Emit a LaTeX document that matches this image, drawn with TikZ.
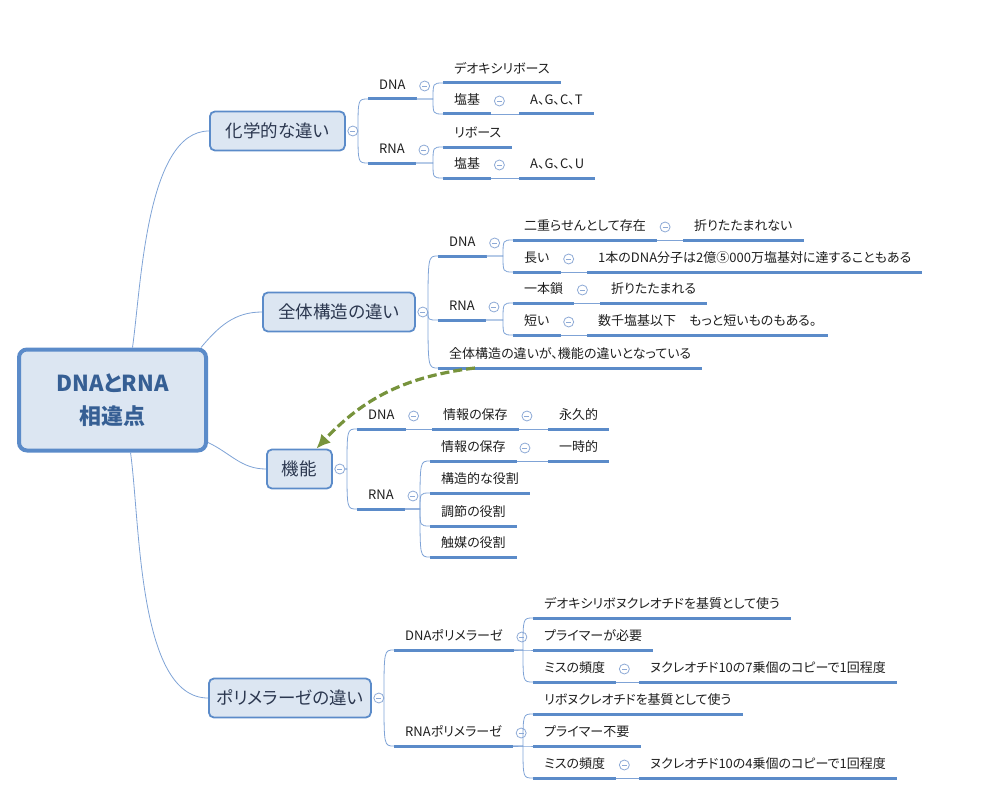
\documentclass[tikz,border=0pt]{standalone}
\usepackage{fontspec}
\setmainfont{Noto Sans CJK JP}[RawFeature=+palt]
\usetikzlibrary{arrows.meta}

\definecolor{xblue}{HTML}{5B8BC9}
\definecolor{xfill}{HTML}{DCE6F2}
\definecolor{rootblue}{HTML}{365F94}
\definecolor{topictext}{HTML}{2C3850}
\definecolor{leaftext}{HTML}{1E1E1E}
\definecolor{connblue}{HTML}{7FA3D6}
\definecolor{foldblue}{HTML}{8EAAD6}
\definecolor{relgreen}{HTML}{77933C}

\tikzset{
  root/.style={draw=xblue,line width=4pt,fill=xfill,rounded corners=8pt,
    minimum width=187pt,minimum height=101pt,align=center,
    font=\fontsize{22}{33}\selectfont\bfseries,text=rootblue},
  topic/.style={draw=xblue,line width=1.8pt,fill=xfill,rounded corners=5pt,
    minimum height=39pt,anchor=west,font=\fontsize{17.5}{20}\selectfont,text=topictext},
  uline/.style={draw=xblue,line width=3pt},
  leaf/.style={anchor=south west,inner xsep=11pt,inner ysep=6pt,text height=10pt,
    text depth=3pt,font=\fontsize{13}{15}\selectfont,text=leaftext,
    append after command={(\tikzlastnode.south west) edge[uline] (\tikzlastnode.south east)}},
  conn/.style={draw=connblue,line width=0.8pt},
  fold/.style={circle,draw=foldblue,line width=0.8pt,fill=white,inner sep=0pt,minimum size=10pt,
    path picture={\draw[foldblue,line width=0.8pt] ([xshift=2.5pt]path picture bounding box.west)
      -- ([xshift=-2.5pt]path picture bounding box.east);}},
  brace/.style={to path={-- ([xshift=-10pt]\tikztotarget |- \tikztostart)
    .. controls ([xshift=-10pt]\tikztotarget) .. (\tikztotarget)}},
  relation/.style={draw=relgreen,line width=3.2pt,dash pattern=on 9pt off 4pt,
    -{Latex[length=14pt,width=13pt]}}
}

\begin{document}
\begin{tikzpicture}[x=1pt,y=-1pt]
\useasboundingbox (0,0) rectangle (1003,797);

% center and main topics
\node[root] (root) at (112.5,400) {DNAとRNA\\相違点};
\node[topic,minimum width=135pt] (kagaku) at (209,131) {化学的な違い};
\node[topic,minimum width=152pt] (zentai) at (262,312) {全体構造の違い};
\node[topic,minimum width=65pt] (kinou) at (266,469) {機能};
\node[topic,minimum width=162pt] (pol) at (208,698) {ポリメラーゼの違い};

\draw[conn] ([xshift=20pt]root.north) to[out=82,in=180,looseness=0.7] (kagaku.west);
\draw[conn] ([xshift=-7pt]root.north east) to[out=50,in=180] (zentai.west);
\draw[conn] ([yshift=10pt]root.south east) to[out=-25,in=180] (kinou.west);
\draw[conn] ([xshift=18pt]root.south) to[out=-82,in=180,looseness=0.7] (pol.west);

% 化学的な違い
\node[leaf] (k-dna) at (368,99) {DNA};
\node[leaf] (k-dna-deoxy) at (443,83) {デオキシリボース};
\node[leaf] (k-dna-base) at (443,114) {塩基};
\node[leaf] (k-dna-agct) at (519,114) {A、G、C、T};
\node[leaf] (k-rna) at (368,163) {RNA};
\node[leaf] (k-rna-ribose) at (443,147) {リボース};
\node[leaf] (k-rna-base) at (443,178) {塩基};
\node[leaf] (k-rna-agcu) at (519,178) {A、G、C、U};

\node[fold] (kagaku-f) at ([xshift=7pt]kagaku.east) {};
\node[fold] (k-dna-f) at ([xshift=8pt,yshift=13pt]k-dna.south east) {};
\node[fold] (k-dna-base-f) at ([xshift=8pt,yshift=13pt]k-dna-base.south east) {};
\node[fold] (k-rna-f) at ([xshift=8pt,yshift=13pt]k-rna.south east) {};
\node[fold] (k-rna-base-f) at ([xshift=8pt,yshift=13pt]k-rna-base.south east) {};

\draw[conn] (kagaku-f.east) to[brace] (k-dna.south west);
\draw[conn] (kagaku-f.east) to[brace] (k-rna.south west);
\draw[conn] (k-dna.south east) to[brace] (k-dna-deoxy.south west);
\draw[conn] (k-dna.south east) to[brace] (k-dna-base.south west);
\draw[conn] (k-dna-base.south east) -- (k-dna-agct.south west);
\draw[conn] (k-rna.south east) to[brace] (k-rna-ribose.south west);
\draw[conn] (k-rna.south east) to[brace] (k-rna-base.south west);
\draw[conn] (k-rna-base.south east) -- (k-rna-agcu.south west);

% 全体構造の違い
\node[leaf] (z-dna) at (438,256) {DNA};
\node[leaf] (z-dna-double) at (513,240) {二重らせんとして存在};
\node[leaf] (z-dna-nofold) at (683,240) {折りたたまれない};
\node[leaf] (z-dna-long) at (513,272) {長い};
\node[leaf] (z-dna-len) at (587,272) {1本のDNA分子は2億⑤000万塩基対に達することもある};
\node[leaf] (z-rna) at (438,320) {RNA};
\node[leaf] (z-rna-single) at (513,303) {一本鎖};
\node[leaf] (z-rna-fold) at (600,303) {折りたたまれる};
\node[leaf] (z-rna-short) at (513,335) {短い};
\node[leaf] (z-rna-len) at (587,335) {数千塩基以下　もっと短いものもある。};
\node[leaf] (z-note) at (438,368) {全体構造の違いが、機能の違いとなっている};

\node[fold] (zentai-f) at ([xshift=7pt]zentai.east) {};
\node[fold] (z-dna-f) at ([xshift=8pt,yshift=13pt]z-dna.south east) {};
\node[fold] (z-dna-double-f) at ([xshift=8pt,yshift=13pt]z-dna-double.south east) {};
\node[fold] (z-dna-long-f) at ([xshift=8pt,yshift=13pt]z-dna-long.south east) {};
\node[fold] (z-rna-f) at ([xshift=8pt,yshift=13pt]z-rna.south east) {};
\node[fold] (z-rna-single-f) at ([xshift=8pt,yshift=13pt]z-rna-single.south east) {};
\node[fold] (z-rna-short-f) at ([xshift=8pt,yshift=13pt]z-rna-short.south east) {};

\draw[conn] (zentai-f.east) to[brace] (z-dna.south west);
\draw[conn] (zentai-f.east) to[brace] (z-rna.south west);
\draw[conn] (zentai-f.east) to[brace] (z-note.south west);
\draw[conn] (z-dna.south east) to[brace] (z-dna-double.south west);
\draw[conn] (z-dna.south east) to[brace] (z-dna-long.south west);
\draw[conn] (z-dna-double.south east) -- (z-dna-nofold.south west);
\draw[conn] (z-dna-long.south east) -- (z-dna-len.south west);
\draw[conn] (z-rna.south east) to[brace] (z-rna-single.south west);
\draw[conn] (z-rna.south east) to[brace] (z-rna-short.south west);
\draw[conn] (z-rna-single.south east) -- (z-rna-fold.south west);
\draw[conn] (z-rna-short.south east) -- (z-rna-len.south west);

% 機能
\node[leaf] (f-dna) at (357,429) {DNA};
\node[leaf] (f-dna-info) at (432,429) {情報の保存};
\node[leaf] (f-dna-perm) at (548,429) {永久的};
\node[leaf] (f-rna) at (357,509) {RNA};
\node[leaf] (f-rna-info) at (430,461) {情報の保存};
\node[leaf] (f-rna-temp) at (548,461) {一時的};
\node[leaf] (f-rna-struct) at (430,493) {構造的な役割};
\node[leaf] (f-rna-reg) at (430,526) {調節の役割};
\node[leaf] (f-rna-cat) at (430,557) {触媒の役割};

\node[fold] (kinou-f) at ([xshift=7pt]kinou.east) {};
\node[fold] (f-dna-f) at ([xshift=8pt,yshift=13pt]f-dna.south east) {};
\node[fold] (f-dna-info-f) at ([xshift=8pt,yshift=13pt]f-dna-info.south east) {};
\node[fold] (f-rna-f) at ([xshift=8pt,yshift=13pt]f-rna.south east) {};
\node[fold] (f-rna-info-f) at ([xshift=8pt,yshift=13pt]f-rna-info.south east) {};

\draw[conn] (kinou-f.east) to[brace] (f-dna.south west);
\draw[conn] (kinou-f.east) to[brace] (f-rna.south west);
\draw[conn] (f-dna.south east) -- (f-dna-info.south west);
\draw[conn] (f-dna-info.south east) -- (f-dna-perm.south west);
\draw[conn] (f-rna.south east) to[brace] (f-rna-info.south west);
\draw[conn] (f-rna.south east) to[brace] (f-rna-struct.south west);
\draw[conn] (f-rna.south east) to[brace] (f-rna-reg.south west);
\draw[conn] (f-rna.south east) to[brace] (f-rna-cat.south west);
\draw[conn] (f-rna-info.south east) -- (f-rna-temp.south west);

% ポリメラーゼの違い
\node[leaf] (p-dna) at (394,650) {DNAポリメラーゼ};
\node[leaf] (p-dna-sub) at (533,618) {デオキシリボヌクレオチドを基質として使う};
\node[leaf] (p-dna-primer) at (533,650) {プライマーが必要};
\node[leaf] (p-dna-miss) at (533,682) {ミスの頻度};
\node[leaf] (p-dna-rate) at (639,682) {ヌクレオチド10の7乗個のコピーで1回程度};
\node[leaf] (p-rna) at (394,746) {RNAポリメラーゼ};
\node[leaf] (p-rna-sub) at (533,714) {リボヌクレオチドを基質として使う};
\node[leaf] (p-rna-primer) at (533,746) {プライマー不要};
\node[leaf] (p-rna-miss) at (533,778) {ミスの頻度};
\node[leaf] (p-rna-rate) at (639,778) {ヌクレオチド10の4乗個のコピーで1回程度};

\node[fold] (pol-f) at ([xshift=7pt]pol.east) {};
\node[fold] (p-dna-f) at ([xshift=8pt,yshift=13pt]p-dna.south east) {};
\node[fold] (p-dna-miss-f) at ([xshift=8pt,yshift=13pt]p-dna-miss.south east) {};
\node[fold] (p-rna-f) at ([xshift=8pt,yshift=13pt]p-rna.south east) {};
\node[fold] (p-rna-miss-f) at ([xshift=8pt,yshift=13pt]p-rna-miss.south east) {};

\draw[conn] (pol-f.east) to[brace] (p-dna.south west);
\draw[conn] (pol-f.east) to[brace] (p-rna.south west);
\draw[conn] (p-dna.south east) to[brace] (p-dna-sub.south west);
\draw[conn] (p-dna.south east) to[brace] (p-dna-primer.south west);
\draw[conn] (p-dna.south east) to[brace] (p-dna-miss.south west);
\draw[conn] (p-dna-miss.south east) -- (p-dna-rate.south west);
\draw[conn] (p-rna.south east) to[brace] (p-rna-sub.south west);
\draw[conn] (p-rna.south east) to[brace] (p-rna-primer.south west);
\draw[conn] (p-rna.south east) to[brace] (p-rna-miss.south west);
\draw[conn] (p-rna-miss.south east) -- (p-rna-rate.south west);

% relation
\draw[relation] ([xshift=37pt]z-note.south west) to[bend right=20] ([xshift=17pt]kinou.north);
\end{tikzpicture}
\end{document}
